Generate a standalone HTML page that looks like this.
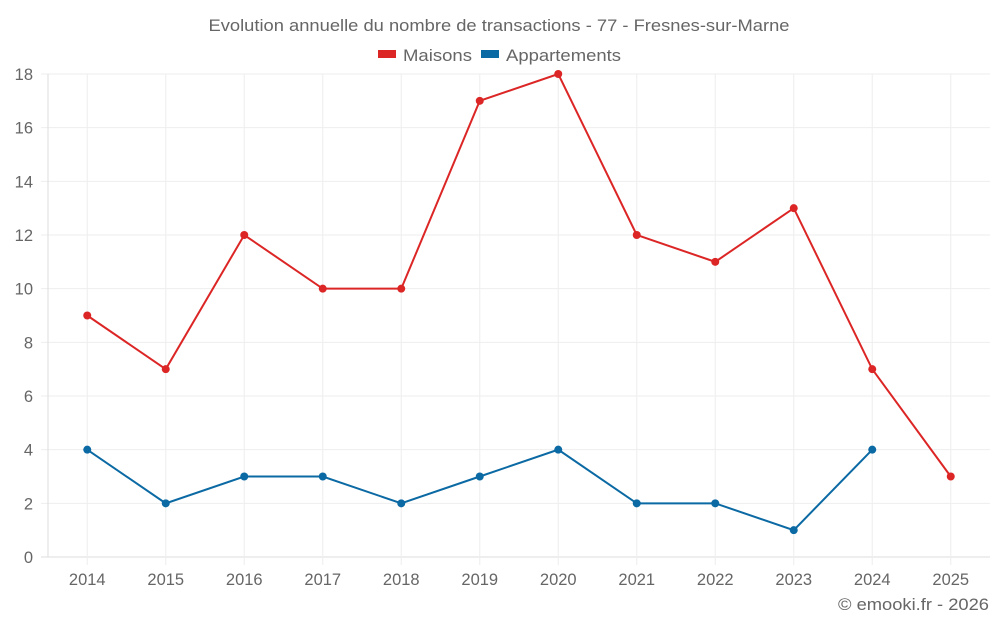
<!DOCTYPE html>
<html><head><meta charset="utf-8"><style>
body{margin:0;background:#fff;}
svg text{font-family:"Liberation Sans",sans-serif;fill:#666;}
</style></head><body>
<svg id="c" width="1000" height="625">
<text x="499" y="31" font-size="17" text-anchor="middle" textLength="581" lengthAdjust="spacingAndGlyphs">Evolution annuelle du nombre de transactions - 77 - Fresnes-sur-Marne</text>
<g>
<rect x="378" y="50" width="18" height="8" fill="#dc2626"/>
<text x="403" y="61" font-size="17" textLength="69" lengthAdjust="spacingAndGlyphs">Maisons</text>
<rect x="481" y="50" width="18" height="8" fill="#0b69a3"/>
<text x="506" y="61" font-size="17" textLength="115" lengthAdjust="spacingAndGlyphs">Appartements</text>
</g>
<g id="grid"></g><g id="series"></g>
<text x="989" y="610" font-size="16.5" text-anchor="end" textLength="151" lengthAdjust="spacingAndGlyphs">© emooki.fr - 2026</text>
</svg>
<script>
const years=["2014","2015","2016","2017","2018","2019","2020","2021","2022","2023","2024","2025"];
const maisons=[9,7,12,10,10,17,18,12,11,13,7,3];
const appartements=[4,2,3,3,2,3,4,2,2,1,4,null];
const yTicks=[0,2,4,6,8,10,12,14,16,18];
const NS="http://www.w3.org/2000/svg";
const L=48,R=990,T=74,B=557,step=(R-L)/years.length;
const x=i=>L+step*(i+0.5), y=v=>B-(v/18)*(B-T);
function mk(t,a,p){const e=document.createElementNS(NS,t);for(const k in a)e.setAttribute(k,a[k]);p.appendChild(e);return e;}
const g=document.getElementById('grid'),s=document.getElementById('series');
yTicks.forEach(v=>{
 const l=mk('line',{x1:41,x2:R,y1:y(v),y2:y(v),stroke:v===0?'#ddd':'#eee'},g);
 
 
 const t=mk('text',{x:33,y:y(v)+6,'font-size':16.5,'text-anchor':'end'},g);t.textContent=v;
 
 
});
mk('line',{x1:L,x2:L,y1:T,y2:B,stroke:'#ddd'},g);
years.forEach((yr,i)=>{
 const l=mk('line',{x1:x(i),x2:x(i),y1:T,y2:B+8,stroke:'#eee'},g);
 
 
 const t=mk('text',{x:x(i),y:585,'font-size':16.5,'text-anchor':'middle'},g);t.textContent=yr;
 
 
});
function draw(data,color,name){
 let d='';data.forEach((v,i)=>{if(v==null)return;d+=(d?'L':'M')+x(i)+' '+y(v);});
 const p=mk('path',{d:d,fill:'none',stroke:color,'stroke-width':2},s);
 
 
 data.forEach((v,i)=>{if(v==null)return;
  const c=mk('circle',{cx:x(i),cy:y(v),r:4,fill:color},s);
  
  
 });
}
draw(maisons,'#dc2626','maisons');
draw(appartements,'#0b69a3','appartements');
</script>
</body></html>
